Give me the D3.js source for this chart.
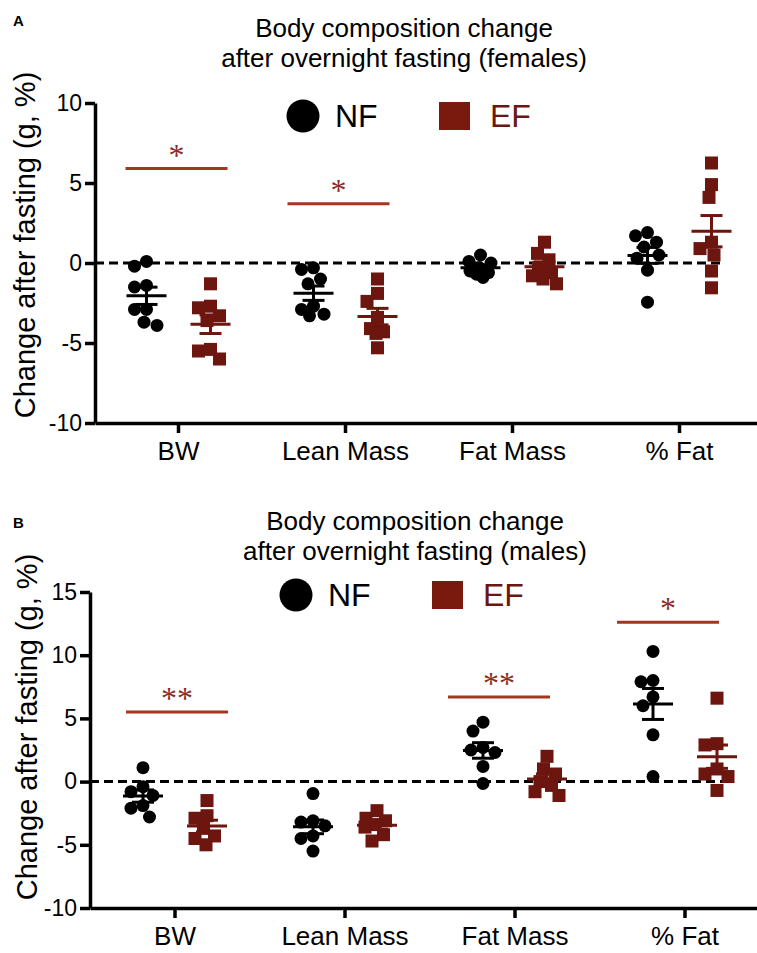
<!DOCTYPE html>
<meta charset="utf-8">
<style>
  body { margin: 0; background: #fff; }
  text { font-family: "Liberation Sans", Arial, sans-serif; }
</style>
<body>
<script src="https://d3js.org/d3.v7.min.js"></script>
<script>

// categories and groups
const categories = ["BW", "Lean Mass", "Fat Mass", "% Fat"];
const groups = ["NF", "EF"];

// females, one array per category
const femNF_BW = [0.1, -0.2, -1.4, -1.5, -2.9, -2.9, -3.7, -3.9];
const femNF_Lean = [-0.3, -0.4, -1.0, -1.3, -2.7, -2.9, -3.2, -3.3];
const femNF_Fat = [0.5, 0.1, 0.0, -0.3, -0.5, -0.6, -0.7, -0.9];
const femNF_Pct = [1.9, 1.7, 1.3, 1.0, 0.5, 0.3, -0.45, -2.45];
const femEF_BW = [-1.3, -2.7, -2.8, -3.3, -3.6, -5.4, -5.5, -6.0];
const femEF_Lean = [-1.0, -1.9, -2.4, -3.4, -4.1, -4.3, -4.4, -5.3];
const femEF_Fat = [1.3, 0.6, 0.2, -0.3, -0.6, -0.8, -1.0, -1.3];
const femEF_Pct = [6.25, 4.9, 4.1, 1.3, 0.9, 0.5, -0.5, -1.55];

// males
const malNF_BW = [1.1, -0.4, -0.8, -1.1, -1.9, -2.1, -2.8];
const malNF_Lean = [-0.95, -3.1, -3.2, -3.5, -4.3, -4.5, -5.5];
const malNF_Fat = [4.7, 4.0, 2.7, 2.5, 2.3, 1.2, -0.15];
const malNF_Pct = [10.3, 8.0, 7.9, 6.7, 6.0, 3.7, 0.4];
const malEF_BW = [-1.5, -2.7, -2.9, -3.7, -4.3, -4.5, -5.0];
const malEF_Lean = [-2.3, -2.9, -3.1, -3.4, -3.6, -4.2, -4.7];
const malEF_Fat = [2.0, 1.0, 0.6, 0.0, -0.3, -0.8, -1.1];
const malEF_Pct = [6.6, 2.9, 3.0, 1.0, 0.6, 0.4, -0.7];

// significance bars: category, height, label
const femSigCats = ["BW", "Lean Mass"];
const femSigY = [5.9, 3.7];
const femSigLabels = ["*", "*"];
const malSigCats = ["BW", "Fat Mass", "% Fat"];
const malSigY = [5.5, 6.7, 12.6];
const malSigLabels = ["**", "**", "*"];

const femTicks = [-10, -5, 0, 5, 10];
const malTicks = [-10, -5, 0, 5, 10, 15];

const efColor = "#6d150f";
const sigColor = "#a3361f";
const starColor = "#8b2b24";

const width = 757, height = 953;
const svg = d3.select("body").append("svg")
    .attr("width", width)
    .attr("height", height);

// scatter the dots sideways inside a limited width, prism style
function swarm(vals, y, d, maxX) {
  const pts = vals.map(v => ({v: v, y: y(v)})).sort((a, b) => a.y - b.y);
  const placed = [];
  const offs = d3.range(-maxX, maxX + 0.01, 0.5);
  pts.forEach(p => {
    let best = 0, bestScore = -1;
    offs.forEach(c => {
      let md = d;
      placed.forEach(q => { md = Math.min(md, Math.hypot(c - q.x, p.y - q.y)); });
      if (md > bestScore + 1e-6 || (Math.abs(md - bestScore) < 1e-6 && Math.abs(c) < Math.abs(best))) {
        bestScore = md; best = c;
      }
    });
    p.x = best;
    placed.push(p);
  });
  return pts;
}

function drawPanel(p) {
  const g = svg.append("g");
  const y = d3.scaleLinear().domain(p.yDomain).range(p.yRange);
  const x = d3.scaleBand().domain(categories).range([p.left, p.left + 4 * p.step]);
  const sub = d3.scalePoint().domain(groups).range([-32, 32]);
  const cx = c => x(c) + x.bandwidth() / 2;

  // panel letter
  g.append("text").attr("x", 13).attr("y", p.letterY)
    .style("font-size", "15px").style("font-weight", "bold").text(p.letter);

  // title
  g.selectAll(".title").data(p.title).join("text")
    .attr("x", p.titleX).attr("y", (d, i) => p.titleY + i * 29.5)
    .attr("text-anchor", "middle").style("font-size", "26px").text(d => d);

  // legend
  g.append("circle").attr("cx", p.legX).attr("cy", p.legY).attr("r", 16.5).attr("fill", "#000");
  g.append("text").attr("x", p.legX + 32).attr("y", p.legY + 11)
    .style("font-size", "32px").text("NF");
  g.append("rect").attr("x", p.legX + 136).attr("y", p.legY - 14)
    .attr("width", 31).attr("height", 28).attr("fill", "#7a1a0e");
  g.append("text").attr("x", p.legX + 187).attr("y", p.legY + 11)
    .style("font-size", "32px").attr("fill", efColor).text("EF");

  // axes
  const yAxis = g.append("g").attr("transform", `translate(${p.left},0)`)
    .call(d3.axisLeft(y).tickValues(p.ticks).tickFormat(d => String(d))
      .tickSize(10).tickPadding(3).tickSizeOuter(0));
  const xAxis = g.append("g").attr("transform", `translate(0,${p.yRange[0]})`)
    .call(d3.axisBottom(x).tickSize(10).tickPadding(9).tickSizeOuter(0));
  [yAxis, xAxis].forEach(a => {
    a.select(".domain").attr("stroke-width", 3.5);
    a.selectAll(".tick line").attr("stroke-width", 3.5);
    a.selectAll("text").style("font-family", "Liberation Sans, Arial, sans-serif").attr("fill", "#000");
  });
  yAxis.selectAll("text").style("font-size", "23px");
  xAxis.selectAll("text").style("font-size", "26px");

  g.append("text")
    .attr("transform", `translate(${p.yTitleX},${p.yTitleY}) rotate(-90)`)
    .attr("text-anchor", "middle").style("font-size", "29px")
    .text("Change after fasting (g, %)");

  // zero line
  g.append("line").attr("x1", p.left).attr("x2", 724)
    .attr("y1", y(0)).attr("y2", y(0))
    .attr("stroke", "#000").attr("stroke-width", 3).attr("stroke-dasharray", "9,5");

  // significance
  p.sigCats.forEach((c, i) => {
    const yy = y(p.sigY[i]);
    const mid = cx(c) + p.sigShift[i];
    g.append("line").attr("x1", mid - 51).attr("x2", mid + 51)
      .attr("y1", yy).attr("y2", yy).attr("stroke", sigColor).attr("stroke-width", 3);
    g.append("text").attr("x", mid).attr("y", yy - 3)
      .attr("text-anchor", "middle").style("font-family", "Liberation Serif, serif")
      .style("font-size", "32px").attr("fill", starColor).text(p.sigLabels[i]);
  });

  // points, mean and SEM
  groups.forEach(gr => {
    categories.forEach((c, ci) => {
      const vals = p.data[gr][ci];
      const x0 = cx(c) + sub(gr);
      const col = gr === "NF" ? "#000" : efColor;
      const pts = swarm(vals, y, 13, 12);
      if (gr === "NF") {
        g.selectAll(null).data(pts).join("circle")
          .attr("cx", d => x0 + d.x).attr("cy", d => d.y).attr("r", 6.5).attr("fill", col);
      } else {
        g.selectAll(null).data(pts).join("rect")
          .attr("x", d => x0 + d.x - 6.5).attr("y", d => d.y - 6.5)
          .attr("width", 13).attr("height", 13).attr("fill", col);
      }
      const m = d3.mean(vals);
      const sem = d3.deviation(vals) / Math.sqrt(vals.length);
      g.append("line").attr("x1", x0 - 20).attr("x2", x0 + 20)
        .attr("y1", y(m)).attr("y2", y(m)).attr("stroke", col).attr("stroke-width", 3);
      g.append("line").attr("x1", x0).attr("x2", x0)
        .attr("y1", y(m - sem)).attr("y2", y(m + sem)).attr("stroke", col).attr("stroke-width", 3);
      [m - sem, m + sem].forEach(v => {
        g.append("line").attr("x1", x0 - 11).attr("x2", x0 + 11)
          .attr("y1", y(v)).attr("y2", y(v)).attr("stroke", col).attr("stroke-width", 3);
      });
    });
  });
}

drawPanel({
  letter: "A", letterY: 26,
  title: ["Body composition change", "after overnight fasting (females)"],
  titleX: 404, titleY: 37,
  legX: 303, legY: 116,
  yDomain: [-10, 10], yRange: [423, 103], ticks: femTicks,
  left: 95, step: 167,
  yTitleX: 35, yTitleY: 245,
  sigCats: femSigCats, sigY: femSigY, sigLabels: femSigLabels, sigShift: [-2, -7],
  data: {NF: [femNF_BW, femNF_Lean, femNF_Fat, femNF_Pct], EF: [femEF_BW, femEF_Lean, femEF_Fat, femEF_Pct]}
});

drawPanel({
  letter: "B", letterY: 528,
  title: ["Body composition change", "after overnight fasting (males)"],
  titleX: 415, titleY: 530,
  legX: 296, legY: 595,
  yDomain: [-10, 15], yRange: [908, 592], ticks: malTicks,
  left: 90, step: 170,
  yTitleX: 37, yTitleY: 727,
  sigCats: malSigCats, sigY: malSigY, sigLabels: malSigLabels, sigShift: [2, -16, -17],
  data: {NF: [malNF_BW, malNF_Lean, malNF_Fat, malNF_Pct], EF: [malEF_BW, malEF_Lean, malEF_Fat, malEF_Pct]}
});
</script>
</body>
